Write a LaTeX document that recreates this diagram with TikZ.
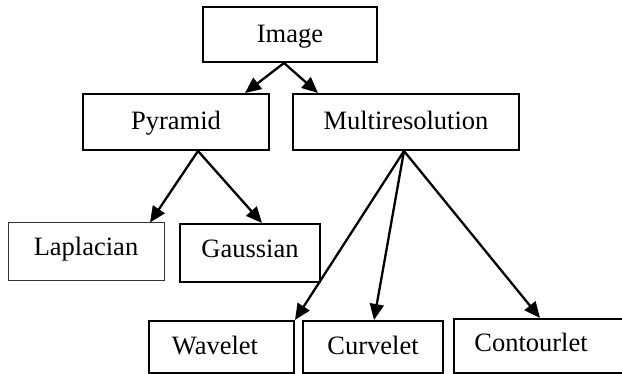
\documentclass[tikz,border=0pt]{standalone}
\usepackage{fontspec}
\setmainfont{Liberation Serif}
\usetikzlibrary{arrows.meta}
\begin{document}
\begin{tikzpicture}[x=1pt,y=-1pt,
  txt/.style={font=\fontsize{26.5}{30}\selectfont, text height=15.5pt, text depth=0pt},
  box/.style={draw=black, line width=2pt, rectangle, inner sep=0pt, txt},
  thinbox/.style={box, draw=black!80, line width=1pt},
  arr/.style={line width=2.3pt, -{Triangle[length=16pt,width=14pt]}}]
\useasboundingbox (0,0) rectangle (622,374);
\node[box, minimum width=174pt, minimum height=55pt] (img) at (290,34.5) {Image};
\node[box, minimum width=186pt, minimum height=56pt] (pyr) at (176,122) {Pyramid};
\node[box, minimum width=226pt, minimum height=56pt] (mul) at (406,122) {Multiresolution};
\node[thinbox, minimum width=156pt, minimum height=58pt] (lap) at (86,252) {\raisebox{4pt}{Laplacian}};
\node[box, minimum width=140pt, minimum height=58pt] (gau) at (250,253) {\raisebox{3pt}{Gaussian}};
\node[box, minimum width=145pt, minimum height=52pt,
  label={[txt, inner sep=0pt, xshift=-6.5pt]center:Wavelet}] (wav) at (221.5,347) {};
\node[box, minimum width=140pt, minimum height=52pt] (cur) at (373,347) {Curvelet};
\node[box, minimum width=176pt, minimum height=54pt,
  label={[txt, inner sep=0pt, xshift=-11pt, yshift=2.5pt]center:Contourlet}] (con) at (542,346) {};
\draw[arr] ([xshift=-6pt]img.south) -- ([xshift=69pt]pyr.north);
\draw[arr] ([xshift=-6pt]img.south) -- ([xshift=-88pt]mul.north);
\draw[arr] ([xshift=22pt]pyr.south) -- ([xshift=64pt]lap.north);
\draw[arr] ([xshift=22pt]pyr.south) -- ([xshift=12pt]gau.north);
\draw[arr] ([xshift=-2pt]mul.south) -- (wav.north east);
\draw[arr] ([xshift=-2pt]mul.south) -- ([xshift=1pt]cur.north);
\draw[arr] ([xshift=-2pt]mul.south) -- ([xshift=-2pt]con.north);
\end{tikzpicture}
\end{document}
